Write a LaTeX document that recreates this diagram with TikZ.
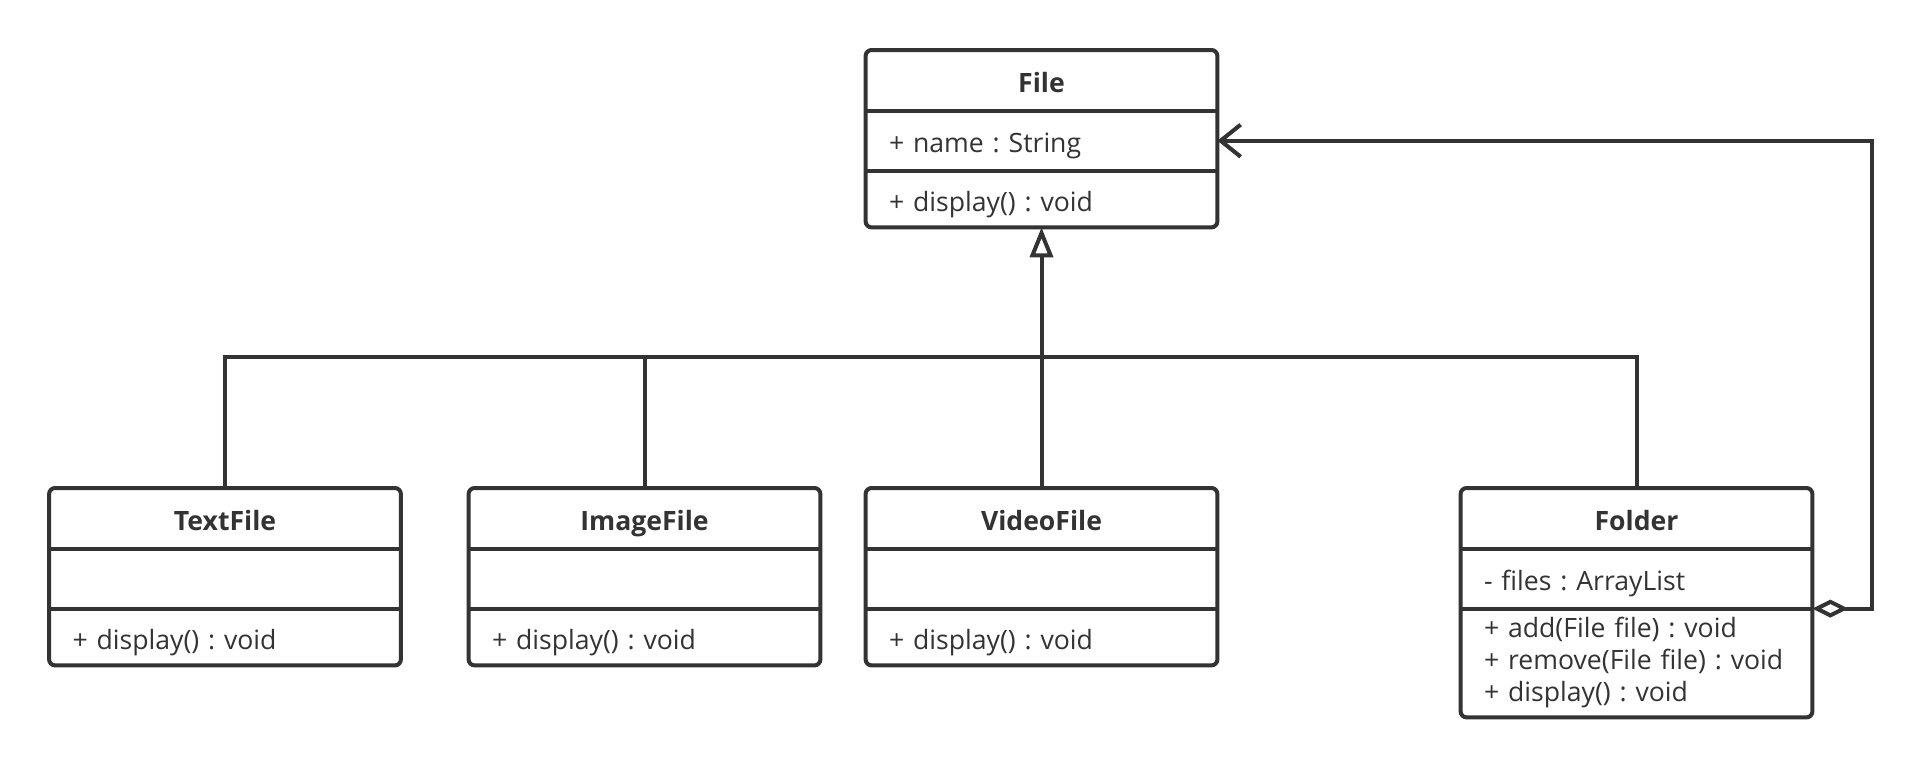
\documentclass[tikz,border=0pt]{standalone}
\usepackage{fontspec}
\setmainfont{Open Sans}
\usetikzlibrary{positioning}
\usetikzlibrary{arrows.meta}
\definecolor{umlgray}{HTML}{333333}
\frenchspacing

\begin{document}
\begin{tikzpicture}[x = 0.5pt, y = -0.5pt, text = umlgray,
    font = \fontsize{13.3}{16}\selectfont,
    every node/.style = {inner sep = 0pt},
    classhead/.style = {anchor = north, minimum width = 175.5pt, minimum height = 30pt,
                        text height = 15pt, text depth = 3pt,
                        font = \fontsize{13.3}{16}\selectfont\bfseries},
    classpart/.style = {minimum width = 175.5pt, text width = 152.5pt, inner xsep = 11.5pt, align = left},
    oneline/.style = {text height = 15pt, text depth = 3pt},
    umlline/.style = {draw = umlgray, line width = 2pt}]

        \fill[white] (0,0) rectangle (1922,766);
        \useasboundingbox (0,0) rectangle (1922,766);

        % the base class
        \node[classhead] (file-h) at (1041.5,50) {File};
        \node[classpart, oneline, minimum height = 29.5pt, below = 0pt of file-h] (file-a) {+ name : String};
        \node[classpart, oneline, minimum height = 28pt, below = 0pt of file-a] (file-m) {+ display() : void};

        % the leaves
        \node[classhead] (text-h) at (225,488) {TextFile};
        \node[classpart, oneline, minimum height = 29.5pt, below = 0pt of text-h] (text-a) {};
        \node[classpart, oneline, minimum height = 28pt, below = 0pt of text-a] (text-m) {+ display() : void};

        \node[classhead] (image-h) at (644.5,488) {ImageFile};
        \node[classpart, oneline, minimum height = 29.5pt, below = 0pt of image-h] (image-a) {};
        \node[classpart, oneline, minimum height = 28pt, below = 0pt of image-a] (image-m) {+ display() : void};

        \node[classhead] (video-h) at (1041.5,488) {VideoFile};
        \node[classpart, oneline, minimum height = 29.5pt, below = 0pt of video-h] (video-a) {};
        \node[classpart, oneline, minimum height = 28pt, below = 0pt of video-a] (video-m) {+ display() : void};

        % the composite
        \node[classhead] (folder-h) at (1636.5,488) {Folder};
        \node[classpart, oneline, minimum height = 29.5pt, below = 0pt of folder-h] (folder-a) {- files : ArrayList};
        \node[classpart, minimum height = 54pt, below = 0pt of folder-a] (folder-m)
            {+ add(File file) : void\\+ remove(File file) : void\\+ display() : void};

        \foreach \c in {file, text, image, video, folder} {
            \draw[umlline, rounded corners = 3pt] (\c-h.north west) rectangle (\c-m.south east);
            \draw[umlline] (\c-h.south west) -- (\c-h.south east);
            \draw[umlline] (\c-a.south west) -- (\c-a.south east);
        }

        % generalization
        \coordinate (bus) at (0,357);
        \draw[umlline, -{Triangle[open, length = 15pt, width = 11.5pt]}] (video-h.north) -- (file-m.south);
        \foreach \c in {text, image, folder}
        \draw[umlline] (\c-h.north) |- (file-m.south |- bus);

        % aggregation
        \coordinate (agg) at (1872,0);
        \draw[umlline, {Diamond[open, length = 18pt, width = 9pt]}-{Straight Barb[length = 10pt, width = 16pt]}]
            (folder-a.south east) -| (agg |- file-a.east) -- (file-a.east);

    \end{tikzpicture}
\end{document}
